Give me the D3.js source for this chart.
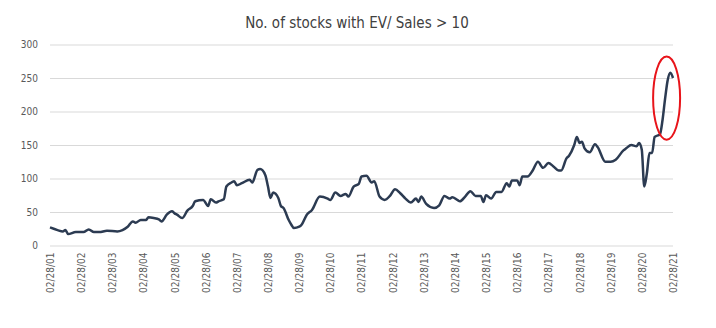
<!DOCTYPE html>
<html>
<head>
<meta charset="utf-8">
<script src="https://cdn.jsdelivr.net/npm/d3@7"></script>
<style>
  body { margin: 0; background: #fff; }
  svg text { font-family: "DejaVu Sans Condensed", "DejaVu Sans", sans-serif; }
</style>
</head>
<body>
<svg width="716" height="328"></svg>
<script>
// values, roughly monthly
const dates = [
  "2001-02","2001-05","2001-07","2001-08","2001-09","2001-12","2002-03","2002-05","2002-07","2002-09",
  "2002-12","2003-04","2003-06","2003-08","2003-10","2003-11","2004-01","2004-03","2004-04","2004-06",
  "2004-08","2004-09","2004-11","2005-01","2005-02","2005-03","2005-05","2005-07","2005-09","2005-10",
  "2006-01","2006-03","2006-04","2006-06","2006-07","2006-09","2006-10","2006-12","2007-01","2007-02",
  "2007-04","2007-07","2007-08","2007-10","2007-11","2008-01","2008-02","2008-03","2008-04","2008-06",
  "2008-07","2008-08","2008-10","2008-11","2008-12","2009-02","2009-03","2009-05","2009-07","2009-10",
  "2010-01","2010-02","2010-04","2010-06","2010-08","2010-09","2010-11","2011-01","2011-02","2011-04",
  "2011-06","2011-07","2011-09","2011-11","2012-01","2012-03","2012-05","2012-07","2012-09","2012-11",
  "2012-12","2013-01","2013-03","2013-06","2013-08","2013-10","2013-12","2014-01","2014-03","2014-04",
  "2014-06","2014-08","2014-10","2014-12","2015-01","2015-02","2015-04","2015-06","2015-08","2015-10",
  "2015-11","2015-12","2016-02","2016-03","2016-04","2016-06","2016-08","2016-10","2016-12","2017-02",
  "2017-04","2017-06","2017-07","2017-09","2017-10","2017-12","2018-01","2018-02","2018-03","2018-04",
  "2018-06","2018-08","2018-09","2018-12","2019-02","2019-04","2019-07","2019-08","2019-10","2019-12",
  "2020-01","2020-02","2020-03","2020-04","2020-05","2020-06","2020-07","2020-09","2020-10","2020-11",
  "2020-12","2021-01","2021-02"
];
const values = [
  27,23,21,23,17,20,20,24,20,20,
  22,21,23,28,36,34,38,38,42,41,
  39,36,46,51,48,46,41,52,59,66,
  68,59,69,64,66,69,88,94,96,90,
  93,98,94,113,114,105,88,71,79,71,
  59,56,38,31,26,28,31,46,53,73,
  70,68,79,74,77,73,88,92,103,104,
  94,96,73,68,74,84,78,70,64,70,
  65,73,62,56,60,74,70,72,68,66,
  73,81,74,74,65,75,70,80,80,93,
  88,97,97,90,103,103,112,125,116,123,
  118,112,112,130,134,150,162,153,155,145,
  139,151,147,125,125,128,142,145,150,148,
  153,143,88,108,138,138,162,166,187,220,
  247,258,250
];
const yTicks = [0, 50, 100, 150, 200, 250, 300];
const title = "No. of stocks with EV/ Sales > 10";

const parseMonth = d3.timeParse("%Y-%m");
const data = dates.map((d, i) => {
  const t = parseMonth(d);
  t.setDate(28);
  return { date: t, value: values[i] };
});

const svg = d3.select("svg");
const margin = { top: 44.5, left: 50, right: 43, bottom: 82.5 };
const width = +svg.attr("width");
const height = +svg.attr("height");

const x = d3.scaleTime()
  .domain([new Date(2001, 1, 28), new Date(2021, 1, 28)])
  .range([margin.left, width - margin.right]);
const y = d3.scaleLinear()
  .domain([0, 300])
  .range([height - margin.bottom, margin.top]);

svg.append("text")
  .attr("x", 357)
  .attr("y", 28)
  .attr("text-anchor", "middle")
  .attr("font-size", 15)
  .attr("fill", "#404040")
  .text(title);

// gridlines + y labels
const yAxis = svg.append("g")
  .attr("transform", `translate(${margin.left},0)`)
  .call(d3.axisLeft(y).tickValues(yTicks)
    .tickSize(-(width - margin.left - margin.right))
    .tickPadding(12));
yAxis.select(".domain").remove();
yAxis.selectAll(".tick line").attr("stroke", "#d9d9d9");
yAxis.selectAll(".tick text")
  .attr("fill", "#595959")
  .attr("font-size", 10);

// x labels
const xTicks = d3.range(2001, 2022).map(yr => new Date(yr, 1, 28));
const xAxis = svg.append("g")
  .attr("transform", `translate(0,${y(0)})`)
  .call(d3.axisBottom(x).tickValues(xTicks)
    .tickFormat(d3.timeFormat("%m/%d/%y"))
    .tickSize(0));
xAxis.select(".domain").remove();
xAxis.selectAll(".tick text")
  .attr("fill", "#595959")
  .attr("font-size", 10)
  .attr("text-anchor", "end")
  .attr("transform", "rotate(-90)")
  .attr("x", -7)
  .attr("y", 0)
  .attr("dy", "0.35em");

const line = d3.line()
  .x(d => x(d.date))
  .y(d => y(d.value))
  .curve(d3.curveMonotoneX);

svg.append("path")
  .datum(data)
  .attr("fill", "none")
  .attr("stroke", "#2c3b52")
  .attr("stroke-width", 2.5)
  .attr("stroke-linejoin", "round")
  .attr("d", line);

// red ring around the last run-up
svg.append("ellipse")
  .attr("cx", x(new Date(2020, 11, 15)))
  .attr("cy", y(220))
  .attr("rx", 13.5)
  .attr("ry", y(158) - y(220))
  .attr("fill", "none")
  .attr("stroke", "#e8141a")
  .attr("stroke-width", 2);
</script>
</body>
</html>
